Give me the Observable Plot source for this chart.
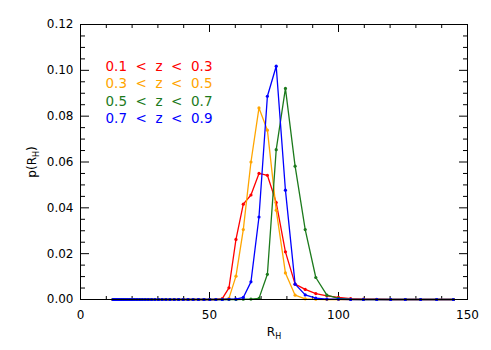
<!DOCTYPE html>
<html><head><meta charset="utf-8">
<script src="https://cdn.jsdelivr.net/npm/d3@7"></script>
<script src="https://cdn.jsdelivr.net/npm/@observablehq/plot@0.6"></script>
<style>
html,body{margin:0;padding:0;background:#fff;}
svg text{white-space:pre;}
</style></head><body><div id="chart"></div>
<script>
// bin centres (R_H), log-spaced
const rH = [12.59,13.18,13.80,14.45,15.14,15.85,16.60,17.38,18.20,19.05,19.95,20.89,21.88,22.91,23.99,25.12,26.30,27.54,28.84,30.20,31.62,33.11,34.67,36.31,38.02,39.81,41.69,43.65,45.71,47.86,50.12,52.48,54.95,57.54,60.26,63.10,66.07,69.18,72.44,75.86,79.43,83.18,87.10,91.20,95.50,100.00,104.71,109.65,114.82,120.23,125.89,131.83,138.04,144.54];

const seriesNames = ["0.1  <  z  <  0.3", "0.3  <  z  <  0.5", "0.5  <  z  <  0.7", "0.7  <  z  <  0.9"];
const seriesColors = ["#ff0000", "#ffa500", "#1c7a1c", "#0000ff"];

const pZ1 = [0,0,0,0,0,0,0,0,0,0,0,0,0,0,0,0,0,0,0,0,0,0,0,0,0,0,0,0,0,0,0,0,0.0004,0.0051,0.0262,0.0416,0.0456,0.0550,0.0542,0.0423,0.0208,0.0067,0.0044,0.0026,0.0016,0.0009,0.0004,0.0002,0.0001,0,0,0,0,0];
const pZ2 = [0,0,0,0,0,0,0,0,0,0,0,0,0,0,0,0,0,0,0,0,0,0,0,0,0,0,0,0,0,0,0,0,0.0001,0.0005,0.0102,0.0305,0.0600,0.0836,0.0739,0.0390,0.0116,0.0019,0.0003,0.0001,0,0,0,0,0,0,0,0,0,0];
const pZ3 = [0,0,0,0,0,0,0,0,0,0,0,0,0,0,0,0,0,0,0,0,0,0,0,0,0,0,0,0,0,0,0,0,0,0,0,0.0001,0.0002,0.0005,0.0110,0.0654,0.0921,0.0582,0.0305,0.0096,0.0019,0.0005,0.0001,0,0,0,0,0,0,0];
const pZ4 = [0,0,0,0,0,0,0,0,0,0,0,0,0,0,0,0,0,0,0,0,0,0,0,0,0,0,0,0,0,0,0,0,0,0.0001,0.0002,0.0009,0.0077,0.0360,0.0887,0.1018,0.0477,0.0067,0.0020,0.0006,0.0002,0.0001,0,0,0,0,0,0,0,0];

const xMajor = [0, 50, 100, 150];
const xMinor = [10, 20, 30, 40, 60, 70, 80, 90, 110, 120, 130, 140];
const yMajor = [0, 0.02, 0.04, 0.06, 0.08, 0.10, 0.12];
const yMinor = [0.005, 0.01, 0.015, 0.025, 0.03, 0.035, 0.045, 0.05, 0.055, 0.065, 0.07, 0.075, 0.085, 0.09, 0.095, 0.105, 0.11, 0.115];

const xLabel = "R_H";
const yLabel = "p(R_H)";

const allSeries = [pZ1, pZ2, pZ3, pZ4];
const seriesMarks = allSeries.flatMap((vals, i) => {
  const rows = vals.map((p, k) => ({r: rH[k], p}));
  return [
    Plot.line(rows, {x: "r", y: "p", stroke: seriesColors[i], strokeWidth: 1.3}),
    Plot.dot(rows, {x: "r", y: "p", fill: seriesColors[i], r: 1.6})
  ];
});

const legendDy = [42, 59.4, 76.8, 94.2];
const legendMarks = seriesNames.map((name, i) =>
  Plot.text([name], {frameAnchor: "top-left", dx: 25, dy: legendDy[i], textAnchor: "start", lineAnchor: "middle", fill: seriesColors[i], fontSize: 13.5})
);

const chart = Plot.plot({
  width: 491,
  height: 350,
  marginLeft: 80,
  marginRight: 24,
  marginTop: 24,
  marginBottom: 51,
  style: {fontFamily: "DejaVu Sans", fontSize: "12px", color: "black", background: "white"},
  x: {domain: [0, 150]},
  y: {domain: [0, 0.12]},
  marks: [
    // tick labels
    Plot.axisX(xMajor, {anchor: "bottom", tickSize: 0, tickPadding: 11, label: null, tickFormat: d3.format("d")}),
    Plot.axisY(yMajor, {anchor: "left", tickSize: 0, tickPadding: 7, label: null, tickFormat: d3.format(".2f")}),
    // inward ticks on all four sides
    Plot.axisX(xMajor, {anchor: "top", frameAnchor: "bottom", tickSize: 8, fill: "none", label: null}),
    Plot.axisX(xMinor, {anchor: "top", frameAnchor: "bottom", tickSize: 4, fill: "none", label: null}),
    Plot.axisX(xMajor, {anchor: "bottom", frameAnchor: "top", tickSize: 8, fill: "none", label: null}),
    Plot.axisX(xMinor, {anchor: "bottom", frameAnchor: "top", tickSize: 4, fill: "none", label: null}),
    Plot.axisY(yMajor, {anchor: "right", frameAnchor: "left", tickSize: 8, fill: "none", label: null}),
    Plot.axisY(yMinor, {anchor: "right", frameAnchor: "left", tickSize: 4, fill: "none", label: null}),
    Plot.axisY(yMajor, {anchor: "left", frameAnchor: "right", tickSize: 8, fill: "none", label: null}),
    Plot.axisY(yMinor, {anchor: "left", frameAnchor: "right", tickSize: 4, fill: "none", label: null}),
    ...seriesMarks,
    Plot.frame({stroke: "black"}),
    ...legendMarks,
    Plot.text([xLabel], {frameAnchor: "bottom", dy: 33, lineAnchor: "middle", textAnchor: "middle", fontSize: 12}),
    Plot.text([yLabel], {frameAnchor: "left", dx: -48, rotate: -90, lineAnchor: "middle", textAnchor: "middle", fontSize: 12})
  ]
});

// render "_X" as a subscript
d3.select(chart).selectAll("text").each(function () {
  const t = this.textContent;
  if (!t.includes("_")) return;
  const m = t.match(/^(.*)_(.)(.*)$/);
  const el = d3.select(this);
  el.text(null);
  el.append("tspan").text(m[1]);
  el.append("tspan").attr("font-size", "8px").attr("dy", "3").text(m[2]);
  if (m[3]) el.append("tspan").attr("dy", "-3").text(m[3]);
});

document.getElementById("chart").appendChild(chart);
</script>
</body></html>
